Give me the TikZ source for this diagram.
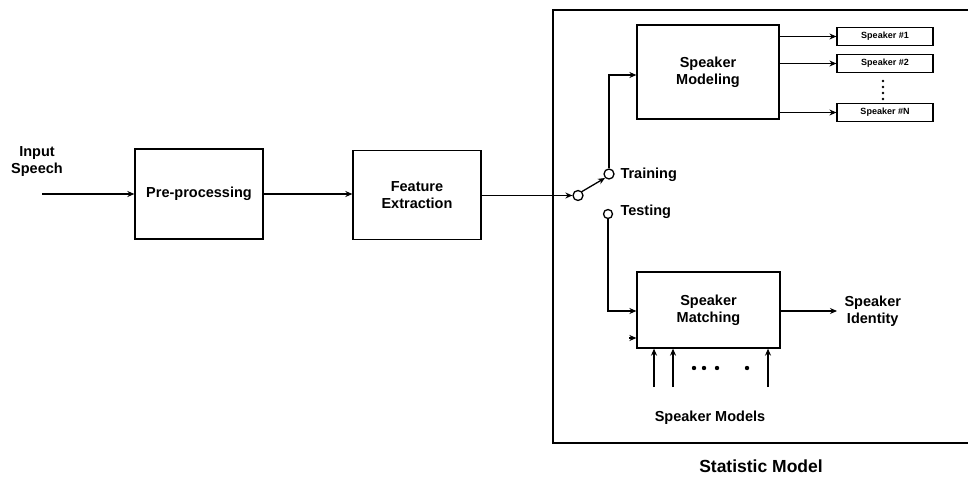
\documentclass[tikz,border=0pt]{standalone}
\usepackage{fontspec}
\setmainfont{Liberation Sans}
\usetikzlibrary{arrows.meta}
\begin{document}
\begin{tikzpicture}[x=1pt,y=-1pt,
  every node/.style={font=\bfseries},
  blockbox/.style={draw,line width=1.3pt,minimum width=128pt,minimum height=90pt,align=center,inner sep=0pt,font=\bfseries\fontsize{14.5}{17}\selectfont},
  spkbox/.style={draw,line width=1.2pt,minimum width=96pt,minimum height=18pt,inner sep=0pt,font=\bfseries\fontsize{9}{10}\selectfont},
  lbl/.style={font=\bfseries\fontsize{14.5}{17}\selectfont,align=center},
  conn/.style={line width=1.3pt,-{Stealth[length=7pt,width=6pt]}},
  plain/.style={line width=1.3pt},
  sw/.style={draw,circle,line width=1.3pt,minimum size=10pt,inner sep=0pt,fill=white}]
\useasboundingbox (0,0) rectangle (968,478);
% statistic model frame
\draw[plain] (975,10) -- (553,10) -- (553,443) -- (975,443);
\node[lbl,font=\bfseries\fontsize{17.5}{20}\selectfont] (stat) at (761,466) {Statistic Model};
% main chain
\node[lbl] (input) at (37,162) {Input\\Speech};
\coordinate (inStart) at (42,194);
\node[blockbox,minimum width=128pt,minimum height=90pt] (pre) at (199,194) {Pre-processing};
\node[blockbox,minimum width=128pt,minimum height=89pt] (feat) at (417,195) {Feature\\Extraction};
\draw[conn] (inStart) -- (pre.west |- inStart);
\draw[conn] (pre.east) -- (feat.west |- pre.east);
% switch
\node[sw] (swin) at (578,195.5) {};
\node[sw] (swtr) at (609,174) {};
\node[sw,minimum size=9pt] (swte) at (608,214) {};
\draw[conn] (feat.east |- swin) -- (swin.west);
\draw[conn] (swin.north east) -- (swtr.south west);
\node[lbl,anchor=west] (train) at (617,175) {Training};
\node[lbl,anchor=west] (test) at (617,212) {Testing};
% speaker modeling
\node[blockbox,minimum width=142pt,minimum height=94pt] (model) at (708,72) {Speaker\\Modeling};
\draw[conn] (swtr.north) -- (609,75) -- (model.west |- 0,75);
\node[spkbox] (s1) at (885,36.5) {Speaker \#1};
\node[spkbox] (s2) at (885,63.5) {Speaker \#2};
\node[spkbox] (sn) at (885,112.5) {Speaker \#N};
\draw[conn] (model.east |- s1) -- (s1.west);
\draw[conn] (model.east |- s2) -- (s2.west);
\draw[conn] (model.east |- sn) -- (sn.west);
\foreach \yy in {81,87,93,99} \fill (883,\yy) circle (1.4pt);
% speaker matching
\node[blockbox,minimum width=143pt,minimum height=76pt] (match) at (708.5,310) {Speaker\\Matching};
\draw[conn] (swte.south) -- (608,311) -- (match.west |- 0,311);
\coordinate (stub) at (629,338);
\draw[conn] (stub) -- (match.west |- stub);
\coordinate (out) at (837,311);
\draw[conn] (match.east |- out) -- (out);
\node[lbl,anchor=west] (ident) at (841,311) {Speaker\\Identity};
\coordinate (m1) at (654,387);
\coordinate (m2) at (673,387);
\coordinate (m3) at (768,387);
\draw[conn] (m1) -- (m1 |- match.south);
\draw[conn] (m2) -- (m2 |- match.south);
\draw[conn] (m3) -- (m3 |- match.south);
\foreach \xx in {694,704,717,747} \fill (\xx,368) circle (2.2pt);
\node[lbl] (models) at (710,418) {Speaker Models};
\end{tikzpicture}
\end{document}
